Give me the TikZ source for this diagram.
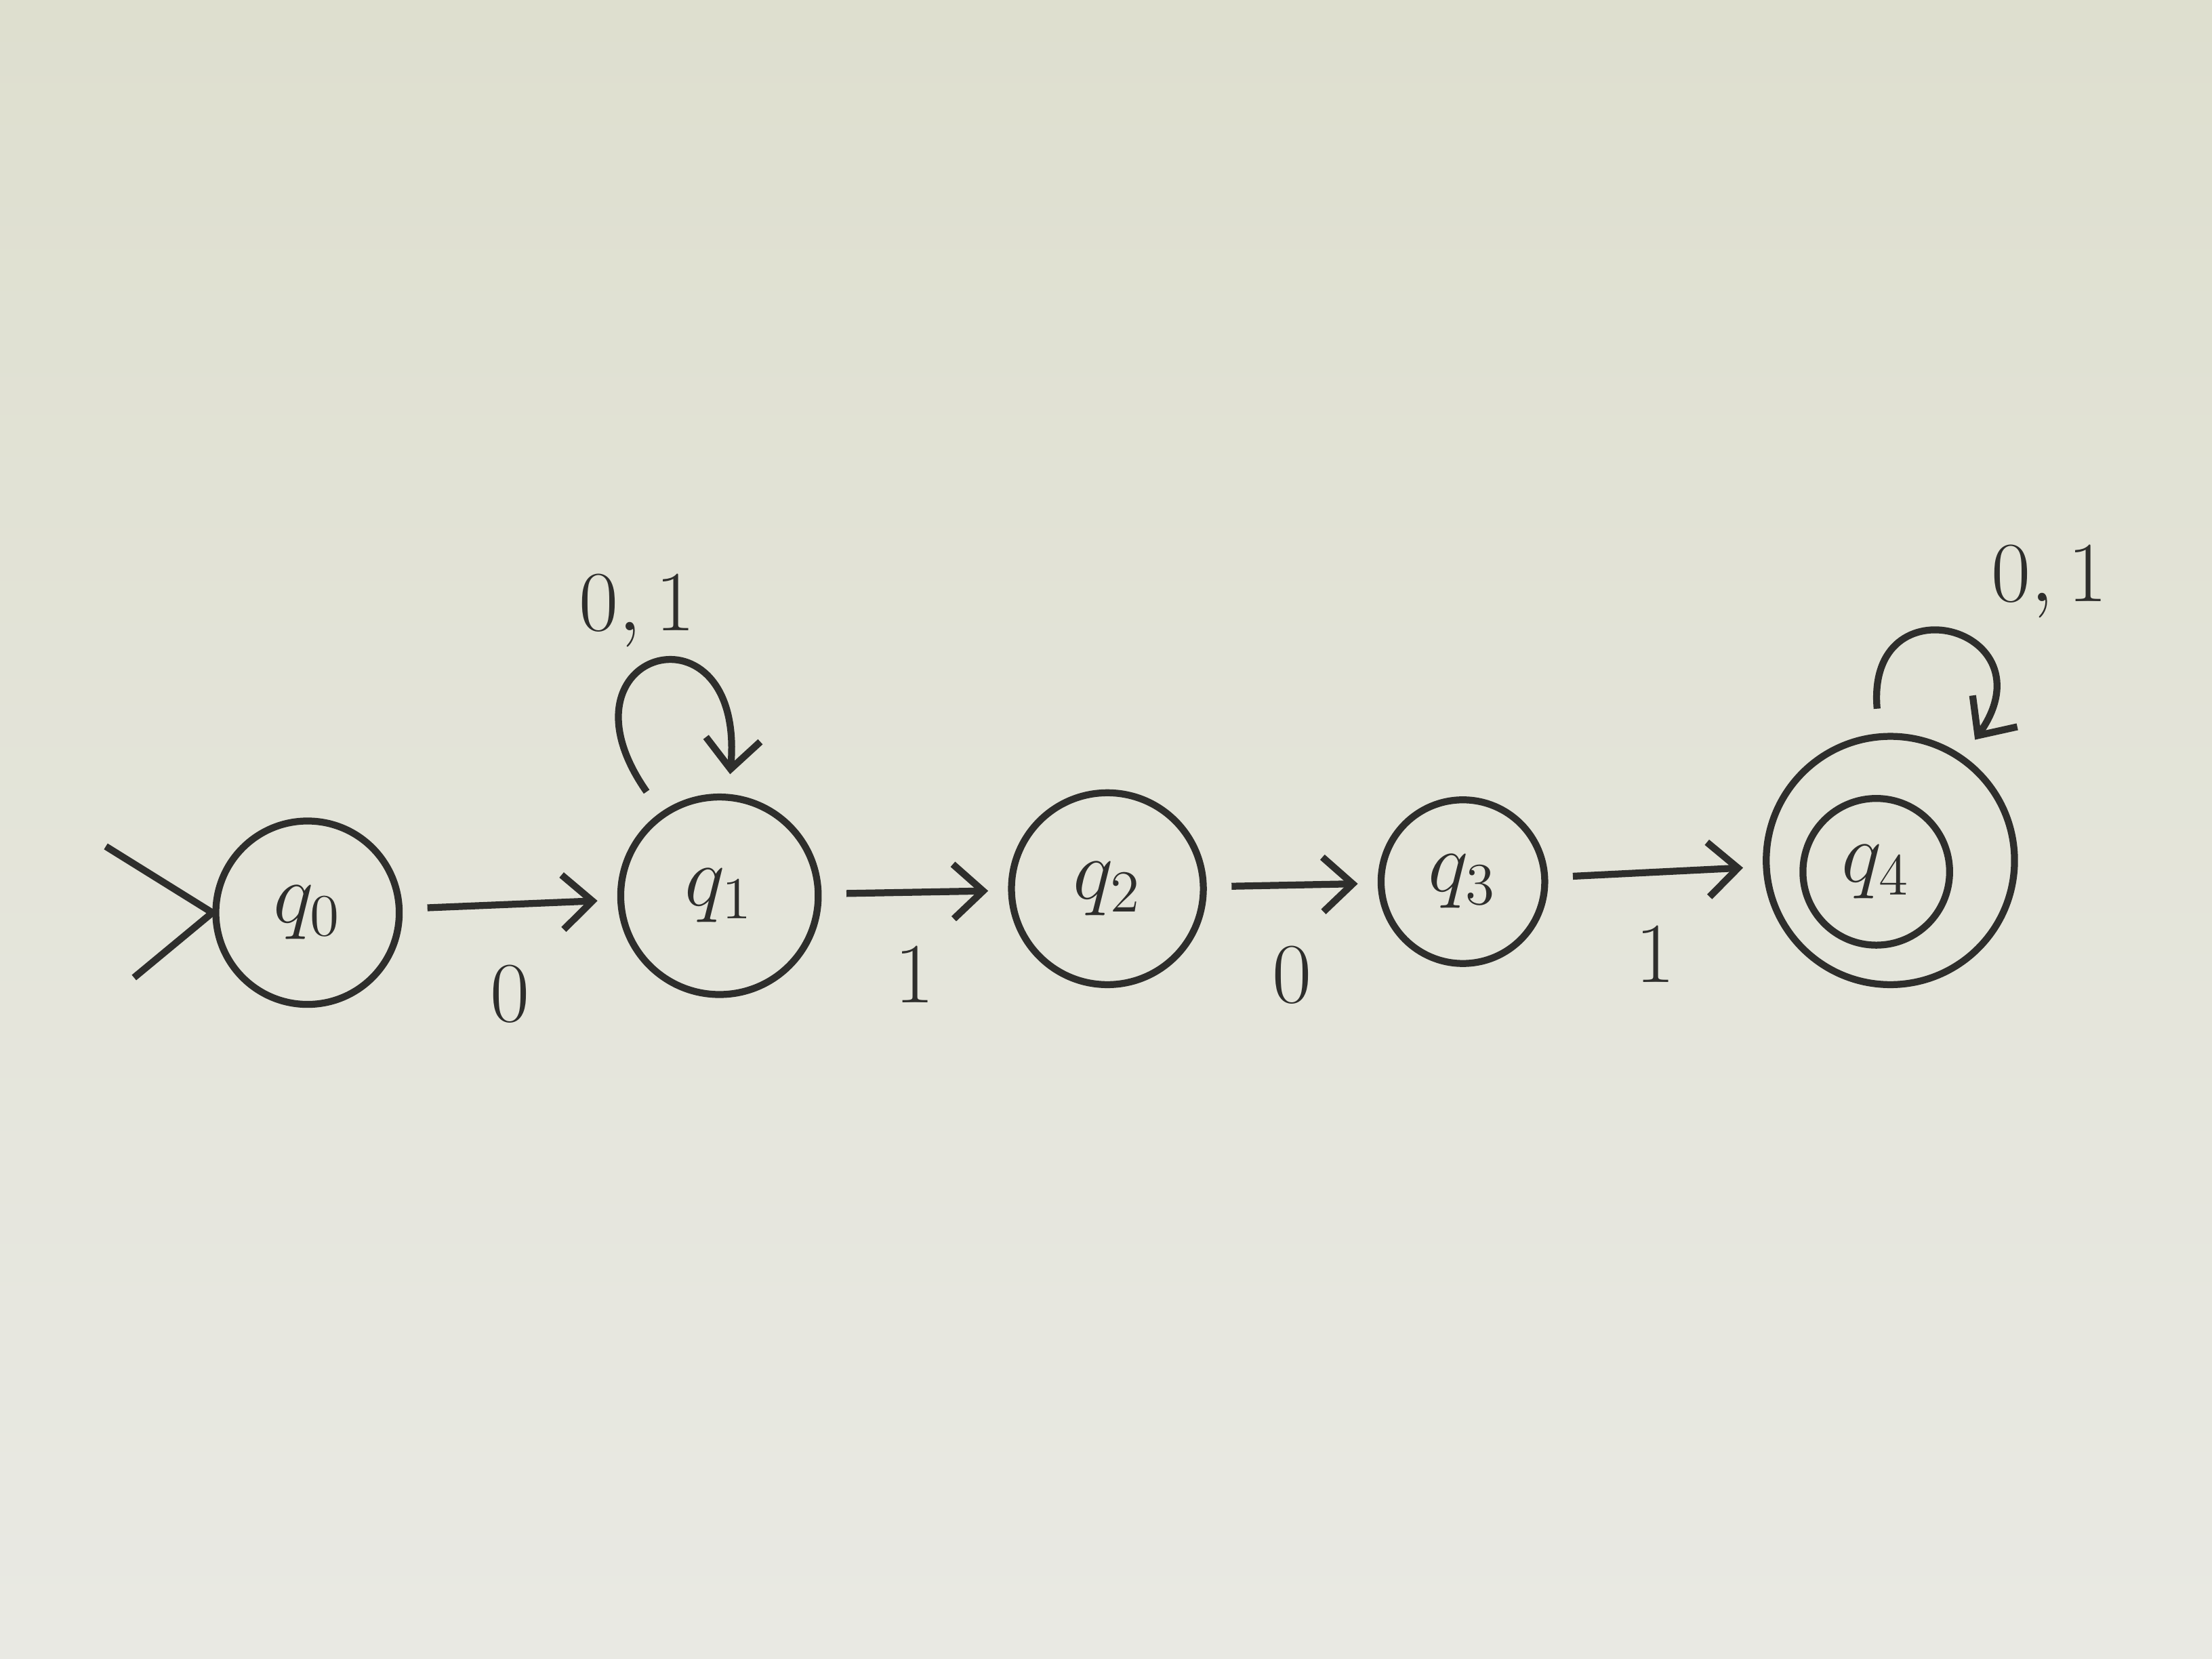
\documentclass[tikz,border=0pt]{standalone}
\usetikzlibrary{arrows.meta}
\definecolor{ink}{RGB}{46,46,44}
\definecolor{papertop}{RGB}{222,223,207}
\definecolor{paperbottom}{RGB}{233,233,227}
\begin{document}
\begin{tikzpicture}[line width=1.4pt, draw=ink, text=ink,
  state/.style={circle, draw=ink, inner sep=0pt, font=\LARGE},
  trans/.style={draw=ink, -{Straight Barb[length=6pt,width=11pt]}, shorten <=5pt, shorten >=4pt},
  lbl/.style={font=\LARGE, text=ink}]
 \shade[top color=papertop, bottom color=paperbottom] (0,0) rectangle (15.68,11.76);
 \useasboundingbox (0,0) rectangle (15.68,11.76);
 % states
 \node[state, minimum size=1.30cm] (q0) at (2.18,5.29) {$q_0$};
 \node[state, minimum size=1.40cm] (q1) at (5.10,5.41) {$q_1$};
 \node[state, minimum size=1.36cm] (q2) at (7.85,5.46) {$q_2$};
 \node[state, minimum size=1.16cm] (q3) at (10.37,5.51) {$q_3$};
 \node[state, minimum size=1.04cm] (q4) at (13.30,5.58) {$q_4$};
 \node[state, minimum size=1.76cm] (q4out) at (13.40,5.66) {};
 % start
 \coordinate (init a) at (0.75,5.76);
 \coordinate (init b) at (0.95,4.83);
 \draw (init a) -- (q0.west) -- (init b);
 % transitions
 \draw[trans] (q0) -- node[lbl, below=0.3cm] {$0$} (q1);
 \draw[trans] (q1) -- node[lbl, below=0.25cm] {$1$} (q2);
 \draw[trans] (q2) -- node[lbl, below=0.3cm] {$0$} (q3);
 \draw[trans] (q3) -- node[lbl, below=0.25cm] {$1$} (q4out);
 \path (q1) edge[trans, out=125, in=85, looseness=7.3] node[lbl, above, xshift=-0.15cm] {$0,1$} (q1);
 \path (q4out) edge[trans, out=95, in=55, looseness=4.6] node[lbl, above right, xshift=0.15cm] {$0,1$} (q4out);
\end{tikzpicture}
\end{document}
